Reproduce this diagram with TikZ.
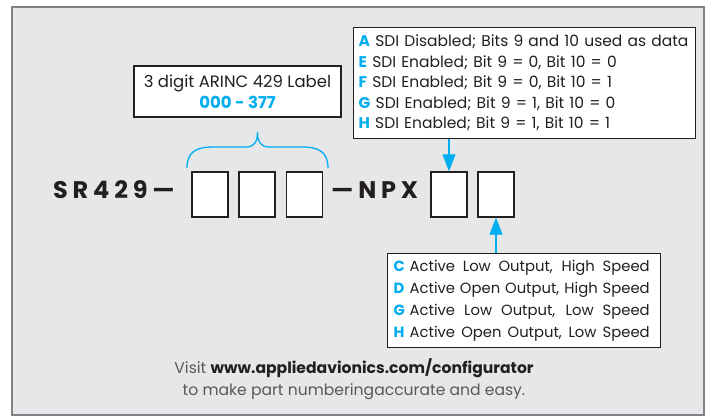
\documentclass[tikz,border=0pt]{standalone}
\usepackage{fontspec}
\setmainfont{Poppins}
\newfontfamily\partfont[LetterSpace=20]{Poppins}
\usepackage{xcolor}
\definecolor{panel}{HTML}{E6E7E8}
\definecolor{ink}{HTML}{231F20}
\definecolor{accent}{HTML}{00AEEF}
\definecolor{rim}{HTML}{808285}
\definecolor{note}{HTML}{58595B}
\usetikzlibrary{positioning}
\usetikzlibrary{arrows.meta}
\newcommand{\optletter}[1]{\textcolor{accent}{\textbf{#1}}}
\newcommand{\spreadline}[2]{\makebox[16pt][l]{\optletter{#1}}\makebox[240pt][s]{\spaceskip=0pt\xspaceskip=0pt #2}}

\begin{document}
\begin{tikzpicture}[x=1pt, y=1pt, every node/.style={inner sep=0pt, text=ink},
  digit/.style={draw=ink, line width=1.4pt, fill=white, minimum width=36pt, minimum height=45pt},
  infobox/.style={draw=ink, line width=1.4pt, fill=white, font=\fontsize{15.5}{20.5}\selectfont},
  pointer/.style={draw=accent, line width=1.3pt, -{Triangle[length=17pt,width=13pt]}}]

\useasboundingbox (0,0) rectangle (709,416);

% panel
  \draw[rim, fill=panel, line width=1.5pt] (12,409) rectangle (704,1);

% part number
  \node[anchor=base west, font=\fontsize{24}{24}\partfont\bfseries] (sr) at (53,218) {SR429—};
  \node[digit] (d1) at (210,221.5) {};
  \node[digit] (d2) at (257,221.5) {};
  \node[digit] (d3) at (304.5,221.5) {};
  \node[anchor=base west, font=\fontsize{24}{24}\partfont\bfseries] (npx) at (331,218) {—NPX};
  \node[digit] (d4) at (449,221.5) {};
  \node[digit] (d5) at (496,221.5) {};

% label
  \node[infobox, minimum width=207pt, minimum height=51pt, align=center, font=\fontsize{16.5}{21}\selectfont] (label) at (237.5,324.5)
    {3 digit ARINC 429 Label\\ \textcolor{accent}{\textbf{000 - 377}}};
  \draw[accent, line width=1.3pt] (187,248) .. controls (187,264) and (196,269) .. (213,269) -- (246,269)
    .. controls (254,269) and (257.5,274) .. (257.5,284)
    .. controls (257.5,274) and (261,269) .. (269,269) -- (302,269)
    .. controls (319,269) and (328,264) .. (328,248);

% SDI
  \node[infobox, anchor=north west, text width=332pt, inner xsep=5pt, minimum height=111pt, align=left] (sdi) at (353,389)
    {\optletter{A} SDI Disabled; Bits 9 and 10 used as data\\
     \optletter{E} SDI Enabled; Bit 9 = 0, Bit 10 = 0\\
     \optletter{F} SDI Enabled; Bit 9 = 0, Bit 10 = 1\\
     \optletter{G} SDI Enabled; Bit 9 = 1, Bit 10 = 0\\
     \optletter{H} SDI Enabled; Bit 9 = 1, Bit 10 = 1};
  \draw[pointer] (d4.north |- sdi.south) -- (d4.north);

% output
  \node[infobox, anchor=north west, text width=261pt, inner xsep=6pt, minimum height=94pt, align=left, font=\fontsize{14.8}{21.9}\selectfont] (speed) at (387,163)
    {\spreadline{C}{Active Low Output, High Speed}\\
     \spreadline{D}{Active Open Output, High Speed}\\
     \spreadline{G}{Active Low Output, Low Speed}\\
     \spreadline{H}{Active Open Output, Low Speed}};
  \draw[pointer] (d5.south |- speed.north) -- (d5.south);

% footer
  \node[align=center, font=\fontsize{15.6}{22}\selectfont, text=note] (visit) at (354,37)
    {Visit \textcolor{ink}{\textbf{www.appliedavionics.com/configurator}}\\ to make part numberingaccurate and easy.};

\end{tikzpicture}
\end{document}
